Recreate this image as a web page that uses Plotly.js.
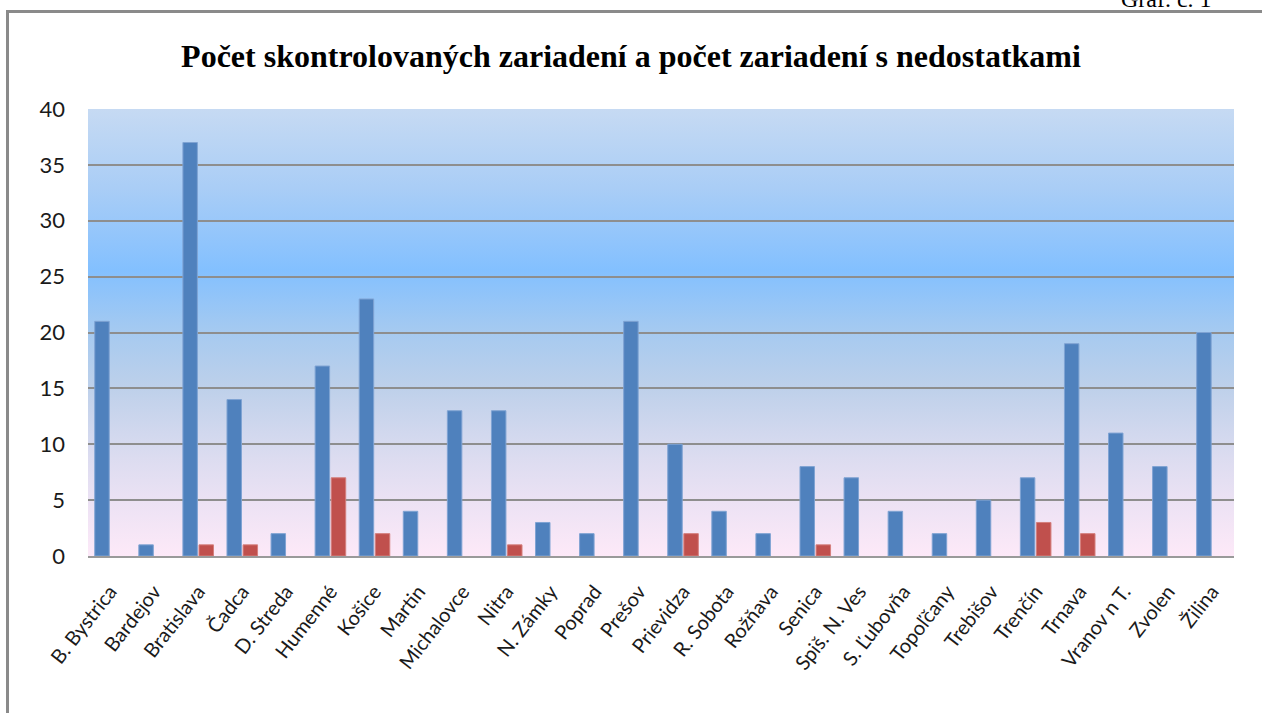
<!DOCTYPE html>
<html>
<head>
<meta charset="utf-8">
<script src="https://cdn.plot.ly/plotly-3.0.1.min.js"></script>
<style>
  html, body { margin: 0; padding: 0; background: #ffffff; }
  #wrap { position: relative; width: 1262px; height: 713px; overflow: hidden; }
  #frame { position: absolute; left: 6px; top: 10px; width: 1300px; height: 800px;
           border-top: 3px solid #8a8a8a; border-left: 3px solid #8a8a8a; box-sizing: border-box; }
  #bg { position: absolute; }
  #chart { position: absolute; left: 0; top: 0; width: 1262px; height: 713px; }
</style>
</head>
<body>
<div id="wrap">
  <div id="frame"></div>
  <div id="bg"></div>
  <div id="chart"></div>
</div>
<script>
const categories = ["B. Bystrica","Bardejov","Bratislava","Čadca","D. Streda","Humenné","Košice","Martin","Michalovce","Nitra","N. Zámky","Poprad","Prešov","Prievidza","R. Sobota","Rožňava","Senica","Spiš. N. Ves","S. Ľubovňa","Topoľčany","Trebišov","Trenčín","Trnava","Vranov n T.","Zvolen","Žilina"];
const checkedCounts = [21,1,37,14,2,17,23,4,13,13,3,2,21,10,4,2,8,7,4,2,5,7,19,11,8,20];
const deficientCounts = [0,0,1,1,0,7,2,0,0,1,0,0,0,2,0,0,1,0,0,0,0,3,2,0,0,0];
const yTicks = [0,5,10,15,20,25,30,35,40];
const titleText = "Počet skontrolovaných zariadení a počet zariadení s nedostatkami";
const cornerText = "Graf. č. 1";

const M = {l: 88, r: 28, t: 109, b: 157};
const W = 1262, H = 713;
const bg = document.getElementById('bg');
bg.style.left = M.l + 'px';
bg.style.top = M.t + 'px';
bg.style.width = (W - M.l - M.r) + 'px';
bg.style.height = (H - M.t - M.b) + 'px';
bg.style.background = 'linear-gradient(to bottom, #c6daf3 0%, #a9cdf6 18%, #83c0ff 36%, #a6caf0 50%, #bdd0ea 62%, #dcdcf0 78%, #ece2f4 88%, #fde9f8 100%)';

const lineW = arr => arr.map(v => v > 0 ? 1 : 0);

const traces = [
  {type: 'bar', x: categories, y: checkedCounts, name: 'skontrolované',
   marker: {color: '#4f81bd', line: {color: '#7fa3d3', width: lineW(checkedCounts)}}},
  {type: 'bar', x: categories, y: deficientCounts, name: 's nedostatkami',
   marker: {color: '#c0504d', line: {color: '#d47f7d', width: lineW(deficientCounts)}}}
];

const plotH = H - M.t - M.b;
const plotW = W - M.l - M.r;

const layout = {
  width: W, height: H,
  margin: M,
  paper_bgcolor: 'rgba(0,0,0,0)',
  plot_bgcolor: 'rgba(0,0,0,0)',
  barmode: 'group',
  bargap: 0.27,
  bargroupgap: 0.1,
  showlegend: false,
  title: {text: titleText, x: 0.5, xanchor: 'center', y: 1 - 56 / H, yanchor: 'middle',
          font: {family: 'Liberation Serif', size: 32, color: '#000000', weight: 'bold'}},
  xaxis: {
    type: 'category', tickangle: -52, showgrid: false, zeroline: false,
    showline: true, linecolor: '#9a9a9a', linewidth: 2, ticks: '',
    tickfont: {family: 'Lato', size: 20, color: '#1a1a1a'},
    ticklabelstandoff: 14
  },
  yaxis: {
    range: [0, 40], tickvals: yTicks, ticktext: yTicks.map(String),
    showgrid: true, gridcolor: '#8e8e8e', gridwidth: 2, zeroline: false,
    showline: false, ticks: '',
    tickfont: {family: 'Lato', size: 22, color: '#1a1a1a'},
    ticklabelstandoff: 22
  },
  annotations: [{
    text: cornerText, xref: 'paper', yref: 'paper',
    x: (1214 - M.l) / plotW, xanchor: 'right',
    y: 1 + (M.t - 14) / plotH, yanchor: 'bottom',
    showarrow: false,
    font: {family: 'Liberation Serif', size: 24, color: '#000000'}
  }]
};

Plotly.newPlot('chart', traces, layout, {displayModeBar: false, staticPlot: true});
</script>
</body>
</html>
